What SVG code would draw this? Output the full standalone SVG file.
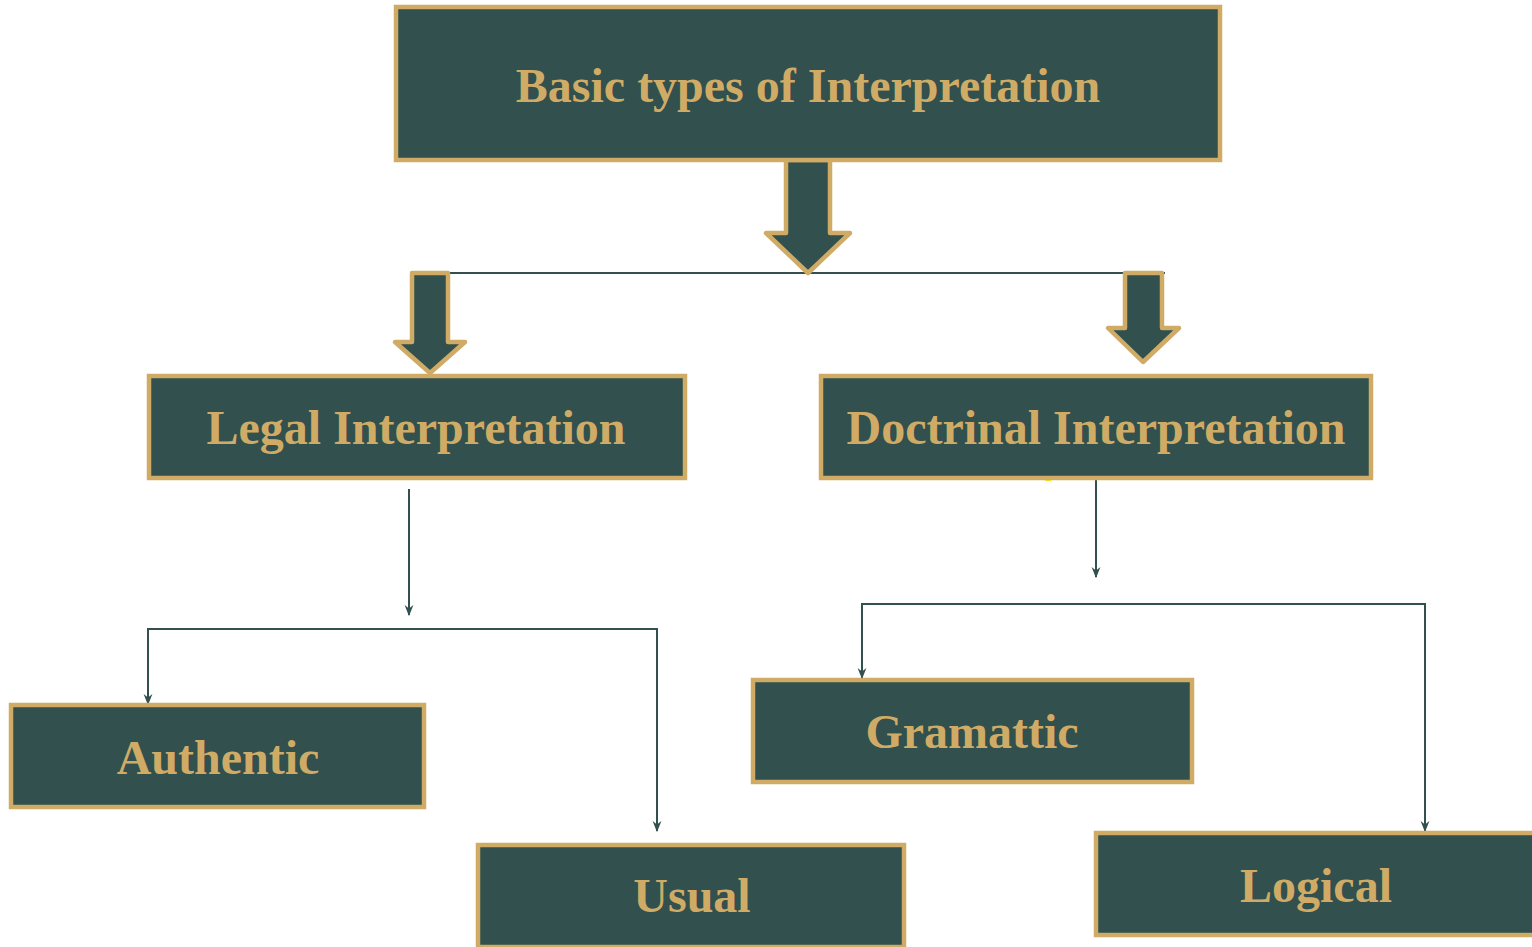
<svg xmlns="http://www.w3.org/2000/svg" width="1532" height="947" viewBox="0 0 1532 947">
<defs>
<style>
.box{fill:#31504E;stroke:#CFAB66;stroke-width:4.5}
.arr{fill:#31504E;stroke:#CFAB66;stroke-width:4.5;stroke-linejoin:round}
.lbl{font-family:"Liberation Serif","Times New Roman",serif;font-weight:bold;font-size:48px;fill:#CFAB66;text-anchor:middle}
.con{fill:none;stroke:#31504E;stroke-width:2}
</style>
<marker id="ah" viewBox="0 0 10 10" refX="9" refY="5" markerWidth="11" markerHeight="11" markerUnits="userSpaceOnUse" orient="auto">
<path d="M0,1 L10,5 L0,9 L3,5 Z" fill="#31504E"/>
</marker>
</defs>
<rect width="1532" height="947" fill="#FFFFFF"/>
<g id="connectors">
<line class="con" x1="450" y1="273" x2="1165" y2="273"/>
<path class="arr" d="M786,160 L830,160 L830,233 L850,233 L808,273 L766,233 L786,233 Z"/>
<path class="arr" d="M412,273 L448,273 L448,342 L465,342 L430,373 L395,342 L412,342 Z"/>
<path class="arr" d="M1125,273 L1162,273 L1162,328 L1179,328 L1143,362 L1108,328 L1125,328 Z"/>
<line class="con" x1="409" y1="489" x2="409" y2="615" marker-end="url(#ah)"/>
<path class="con" d="M657,629 L148,629 L148,704" marker-end="url(#ah)"/>
<path class="con" d="M400,629 L657,629 L657,831" marker-end="url(#ah)"/>
<line class="con" x1="1096" y1="480" x2="1096" y2="577" marker-end="url(#ah)"/>
<path class="con" d="M1425,604 L862,604 L862,678" marker-end="url(#ah)"/>
<path class="con" d="M1000,604 L1425,604 L1425,831" marker-end="url(#ah)"/>
<rect x="1045" y="479" width="6" height="2" fill="#FFEB00"/>
</g>
<g id="n-basic"><rect class="box" x="396" y="7" width="824" height="153"/><text class="lbl" x="808" y="102">Basic types of Interpretation</text></g>
<g id="n-legal"><rect class="box" x="149" y="376" width="536" height="102"/><text class="lbl" x="416" y="444">Legal Interpretation</text></g>
<g id="n-doctrinal"><rect class="box" x="821" y="376" width="550" height="102"/><text class="lbl" x="1096" y="444">Doctrinal Interpretation</text></g>
<g id="n-authentic"><rect class="box" x="11" y="705" width="413" height="102"/><text class="lbl" x="218" y="774">Authentic</text></g>
<g id="n-usual"><rect class="box" x="478" y="845" width="426" height="102"/><text class="lbl" x="692" y="912">Usual</text></g>
<g id="n-gramattic"><rect class="box" x="753" y="680" width="439" height="102"/><text class="lbl" x="972" y="748">Gramattic</text></g>
<g id="n-logical"><rect class="box" x="1096" y="833" width="450" height="102"/><text class="lbl" x="1316" y="902">Logical</text></g>
</svg>
